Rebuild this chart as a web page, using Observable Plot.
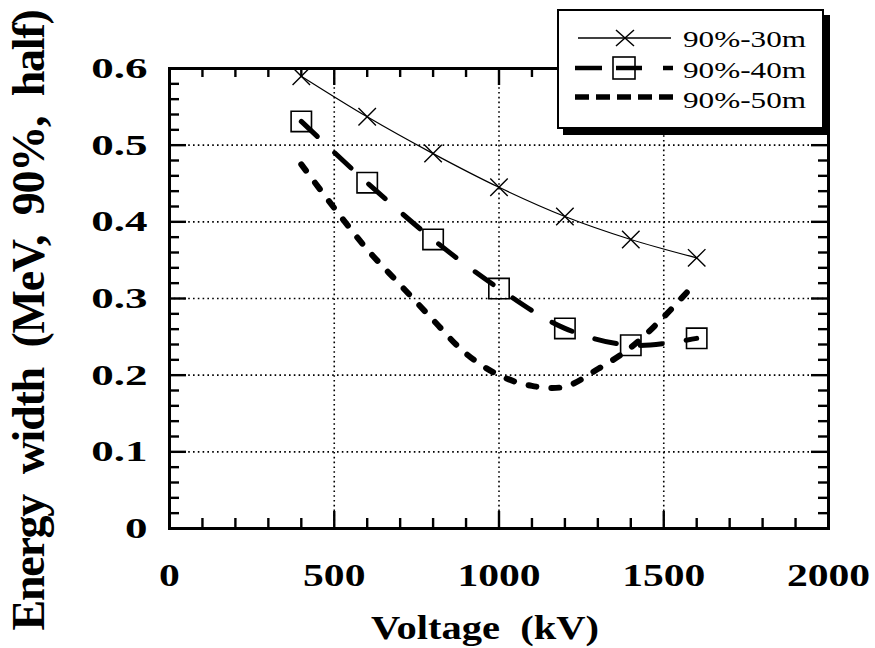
<!DOCTYPE html>
<html>
<head>
<meta charset="utf-8">
<script src="https://cdn.jsdelivr.net/npm/d3@7"></script>
<script src="https://cdn.jsdelivr.net/npm/@observablehq/plot@0.6"></script>
<style>
  body { margin: 0; background: #fff; }
  #chart { position: relative; width: 875px; height: 648px; overflow: hidden; background: #fff; }
  #chart svg text { white-space: pre; }
  #legend { position: absolute; left: 557px; top: 9px; width: 263px; height: 116px;
            border: 2px solid #000; background: #fff; box-shadow: 6px 6px 0 #000; }
  #legend svg { position: absolute; left: -2px; top: -2px; overflow: visible; }
</style>
</head>
<body>
<div id="chart"></div>
<script>
// ---- data ----
const voltage = [400, 600, 800, 1000, 1200, 1400, 1600];
const width30m = [0.590, 0.537, 0.489, 0.445, 0.407, 0.377, 0.353];
const width40m = [0.531, 0.451, 0.377, 0.313, 0.261, 0.239, 0.248];
const voltage50m = [400, 500, 600, 700, 800, 900, 1000, 1100, 1200, 1300, 1400, 1500, 1600];
const width50m = [0.475, 0.418, 0.364, 0.318, 0.272, 0.228, 0.200, 0.186, 0.185, 0.208, 0.236, 0.276, 0.322];
const seriesNames = ["90%-30m", "90%-40m", "90%-50m"];
const xTickLabels = [0, 500, 1000, 1500, 2000];
const yTickLabels = [0, 0.1, 0.2, 0.3, 0.4, 0.5, 0.6];
const xGrid = [500, 1000, 1500];
const yGrid = [0.1, 0.2, 0.3, 0.4, 0.5];
const xMinorTicks = [0,100,200,300,400,500,600,700,800,900,1000,1100,1200,1300,1400,1500,1600,1700,1800,1900,2000];
const yMinorTicks = [0,0.02,0.04,0.06,0.08,0.1,0.12,0.14,0.16,0.18,0.2,0.22,0.24,0.26,0.28,0.3,0.32,0.34,0.36,0.38,0.4,0.42,0.44,0.46,0.48,0.5,0.52,0.54,0.56,0.58,0.6];
const xTitle = "Voltage  (kV)";
const yTitle = "Energy  width  (MeV,  90%,  half)";

// tables built from the arrays
const d30 = voltage.map((v, i) => ({v, w: width30m[i]}));
const d40 = voltage.map((v, i) => ({v, w: width40m[i]}));
const d50 = voltage50m.map((v, i) => ({v, w: width50m[i]}));

const isMajorX = d => xTickLabels.includes(d);
const isMajorY = d => Math.abs(d * 10 - Math.round(d * 10)) < 1e-6;
const yPx = 0.6 / 460;   // y units per pixel
const xPx = 2000 / 659;  // x units per pixel

const serif = "'Liberation Serif', 'Times New Roman', serif";

const plot = Plot.plot({
  width: 875,
  height: 648,
  marginLeft: 169,
  marginRight: 47,
  marginTop: 68,
  marginBottom: 120,
  style: {fontFamily: serif, background: "white", color: "black"},
  x: {domain: [0, 2000], label: null},
  y: {domain: [0, 0.6], label: null},
  marks: [
    // dotted grid
    Plot.ruleX(xGrid, {x: d => d, stroke: "black", strokeWidth: 1.6, strokeDasharray: "1.6,3.2"}),
    Plot.ruleY(yGrid, {y: d => d, stroke: "black", strokeWidth: 1.6, strokeDasharray: "1.6,3.2"}),
    // inward ticks: bottom, top, left, right
    Plot.ruleX(xMinorTicks, {x: d => d, y1: 0, y2: d => (isMajorX(d) ? 17 : 10) * yPx, stroke: "black", strokeWidth: 2.4}),
    Plot.ruleX(xMinorTicks, {x: d => d, y1: 0.6, y2: d => 0.6 - (isMajorX(d) ? 17 : 9) * yPx, stroke: "black", strokeWidth: 2.4}),
    Plot.ruleY(yMinorTicks, {y: d => d, x1: 0, x2: d => (isMajorY(d) ? 17 : 10) * xPx, stroke: "black", strokeWidth: 2.4}),
    Plot.ruleY(yMinorTicks, {y: d => d, x1: 2000, x2: d => 2000 - (isMajorY(d) ? 17 : 10) * xPx, stroke: "black", strokeWidth: 2.4}),
    // series
    Plot.line(d50, {x: "v", y: "w", curve: "catmull-rom", stroke: "black", strokeWidth: 6,
      strokeDasharray: "8,15", strokeLinecap: "round"}),
    Plot.line(d40, {x: "v", y: "w", curve: "catmull-rom", stroke: "black", strokeWidth: 5,
      strokeDasharray: "22,24", strokeLinecap: "round"}),
    Plot.line(d30, {x: "v", y: "w", curve: "catmull-rom", stroke: "black", strokeWidth: 1.2}),
    Plot.dot(d40, {x: "v", y: "w", symbol: "square", r: 11.5, stroke: "black", strokeWidth: 1.6, fill: "none"}),
    Plot.dot(d30, {x: "v", y: "w", symbol: "times", r: 8, stroke: "black", strokeWidth: 1.4}),
    // frame
    Plot.frame({stroke: "black", strokeWidth: 3}),
    // axes
    Plot.axisX(xTickLabels, {tickSize: 0, tickPadding: 35, fontSize: 32, fontWeight: "bold",
      tickFormat: d => String(d)}),
    Plot.axisY(yTickLabels, {tickSize: 0, tickPadding: 22, fontSize: 30, fontWeight: "bold",
      tickFormat: d => d === 0 ? "0" : d.toFixed(1)}),
    // axis titles
    Plot.text([xTitle], {text: d => d, frameAnchor: "bottom", textAnchor: "middle", lineAnchor: "bottom", dx: -14, dy: 110,
      fontSize: 34, fontWeight: "bold"}),
    Plot.text([yTitle], {text: d => d, frameAnchor: "left", textAnchor: "middle", lineAnchor: "bottom", rotate: -90, dx: -126, dy: 22,
      fontSize: 46, fontWeight: "bold"})
  ]
});

const chart = document.getElementById("chart");
chart.appendChild(plot);

// horizontal glyph stretch as in the reference picture
function stretch(sel, k) {
  d3.select(plot).selectAll(sel).each(function() {
    const len = this.getComputedTextLength();
    this.setAttribute("textLength", (len * k).toFixed(1));
    this.setAttribute("lengthAdjust", "spacingAndGlyphs");
  });
}
stretch('g[aria-label="x-axis tick label"] text', 1.3);
stretch('g[aria-label="y-axis tick label"] text', 1.5);
d3.select(plot).selectAll("text").each(function() {
  if (this.textContent === xTitle) { this.setAttribute("textLength", 228); this.setAttribute("lengthAdjust", "spacingAndGlyphs"); }
  if (this.textContent === yTitle) {
    // tighten the rotated title with letter-spacing so its real extent is 620 px
    const len = this.getComputedTextLength();
    const n = this.textContent.length;
    this.style.letterSpacing = ((620 - len) / n).toFixed(2) + "px";
  }
});

// legend (boxed with drop shadow, over the top-right of the frame)
const legend = document.createElement("div");
legend.id = "legend";
chart.appendChild(legend);
const ls = d3.select(legend).append("svg").attr("width", 280).attr("height", 130);
const rows = [29, 59, 88];
const base = [38, 69, 99];
// row 1: thin line with cross
ls.append("line").attr("x1", 21).attr("x2", 114).attr("y1", rows[0]).attr("y2", rows[0]).attr("stroke", "black").attr("stroke-width", 1.3);
ls.append("path").attr("d", `M${68-9},${rows[0]-8}L${68+9},${rows[0]+8}M${68-9},${rows[0]+8}L${68+9},${rows[0]-8}`).attr("stroke", "black").attr("stroke-width", 1.5);
// row 2: long-short dash with square
ls.append("line").attr("x1", 18).attr("x2", 116).attr("y1", rows[1]).attr("y2", rows[1]).attr("stroke", "black").attr("stroke-width", 4.5)
  .attr("stroke-dasharray", "27,14,26,21,10");
ls.append("rect").attr("x", 67 - 11).attr("y", rows[1] - 11).attr("width", 22).attr("height", 22).attr("fill", "none").attr("stroke", "black").attr("stroke-width", 1.6);
// row 3: short thick dashes
ls.append("line").attr("x1", 18).attr("x2", 116).attr("y1", rows[2]).attr("y2", rows[2]).attr("stroke", "black").attr("stroke-width", 5.5)
  .attr("stroke-dasharray", "14,7");
seriesNames.forEach((name, i) => {
  ls.append("text").attr("x", 126).attr("y", base[i]).text(name)
    .attr("font-family", serif).attr("font-size", 24)
    .attr("textLength", 123).attr("lengthAdjust", "spacingAndGlyphs");
});
</script>
</body>
</html>
